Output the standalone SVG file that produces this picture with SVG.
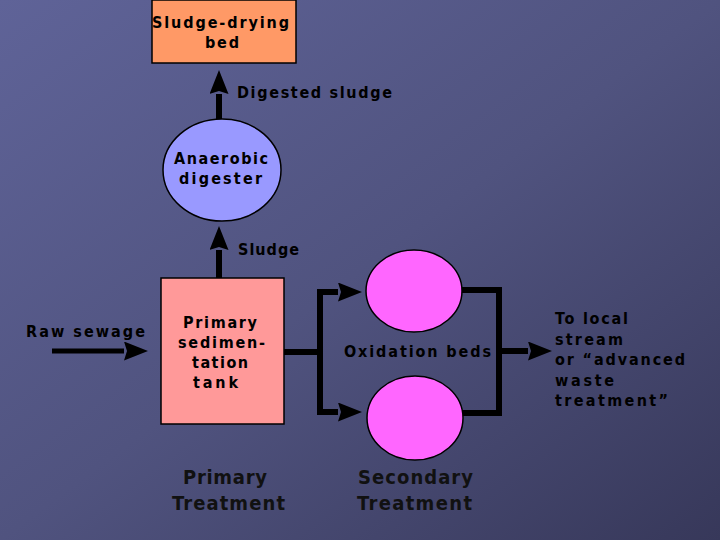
<svg xmlns="http://www.w3.org/2000/svg" width="720" height="540" viewBox="0 0 720 540">
  <defs>
    <linearGradient id="bg" x1="0" y1="0" x2="1" y2="1">
      <stop offset="0" stop-color="#5f6398"/>
      <stop offset="0.5" stop-color="#50537f"/>
      <stop offset="1" stop-color="#37385a"/>
    </linearGradient>
    <marker id="head" viewBox="0 0 24 19" refX="0" refY="9.5" markerWidth="24" markerHeight="19" markerUnits="userSpaceOnUse" orient="auto">
      <path d="M0,0 L24,9.5 L0,19 L3,9.5 z" fill="#000"/>
    </marker>
    <style>
      .lbl { font-family: "DejaVu Sans Condensed", "DejaVu Sans", sans-serif; font-weight: bold; font-size: 16px; fill: #000; }
      .cap { font-family: "DejaVu Sans Condensed", "DejaVu Sans", sans-serif; font-weight: bold; font-size: 20px; fill: #111; }
      .node { stroke: #000; stroke-width: 1.5; }
      .wire { fill: none; stroke: #000; stroke-width: 6; }
      .arrow { fill: none; stroke: #000; stroke-width: 6; marker-end: url(#head); }
    </style>
  </defs>

  <rect x="0" y="0" width="720" height="540" fill="url(#bg)"/>

  <g id="connectors">
    <line class="arrow" x1="219" y1="119" x2="219" y2="94"/>
    <line class="arrow" x1="219" y1="278" x2="219" y2="250"/>
    <line class="arrow" x1="52" y1="351" x2="124" y2="351" style="stroke-width:5"/>
    <line class="wire" x1="284" y1="352" x2="320" y2="352"/>
    <path class="wire" d="M338,292 H320 V412 H338"/>
    <line class="arrow" x1="330" y1="292" x2="338" y2="292"/>
    <line class="arrow" x1="330" y1="412" x2="338" y2="412"/>
    <path class="wire" d="M461,290 H499 V413 H462"/>
    <line class="arrow" x1="499" y1="351" x2="528" y2="351"/>
  </g>

  <g id="sludge-drying-bed">
    <rect class="node" x="152" y="0" width="144" height="63" fill="#ff9966"/>
    <text class="lbl" x="152" y="28" textLength="137" lengthAdjust="spacing">Sludge-drying</text>
    <text class="lbl" x="205" y="48" textLength="34" lengthAdjust="spacing">bed</text>
  </g>

  <g id="anaerobic-digester">
    <ellipse class="node" cx="222" cy="170" rx="59" ry="51" fill="#9999ff"/>
    <text class="lbl" x="174" y="164" textLength="94" lengthAdjust="spacing">Anaerobic</text>
    <text class="lbl" x="179" y="184" textLength="83" lengthAdjust="spacing">digester</text>
  </g>

  <g id="primary-tank">
    <rect class="node" x="161" y="278" width="123" height="146" fill="#ff9999"/>
    <text class="lbl" x="183" y="328" textLength="74" lengthAdjust="spacing">Primary</text>
    <text class="lbl" x="178" y="348" textLength="87" lengthAdjust="spacing">sedimen-</text>
    <text class="lbl" x="192" y="368" textLength="56" lengthAdjust="spacing">tation</text>
    <text class="lbl" x="193" y="388" textLength="45" lengthAdjust="spacing">tank</text>
  </g>

  <g id="oxidation-bed-1">
    <ellipse class="node" cx="414" cy="291" rx="48" ry="41" fill="#ff66ff"/>
  </g>
  <g id="oxidation-bed-2">
    <ellipse class="node" cx="415" cy="418" rx="48" ry="42" fill="#ff66ff"/>
  </g>

  <g id="labels">
    <text class="lbl" x="237" y="98" textLength="155" lengthAdjust="spacing">Digested sludge</text>
    <text class="lbl" x="238" y="255" textLength="61" lengthAdjust="spacing">Sludge</text>
    <text class="lbl" x="26" y="337" textLength="119" lengthAdjust="spacing">Raw sewage</text>
    <text class="lbl" x="344" y="357" textLength="147" lengthAdjust="spacing">Oxidation beds</text>
    <text class="lbl" x="555" y="324" textLength="73" lengthAdjust="spacing">To local</text>
    <text class="lbl" x="555" y="345" textLength="68" lengthAdjust="spacing">stream</text>
    <text class="lbl" x="555" y="365" textLength="130" lengthAdjust="spacing">or “advanced</text>
    <text class="lbl" x="555" y="386" textLength="59" lengthAdjust="spacing">waste</text>
    <text class="lbl" x="555" y="406" textLength="113" lengthAdjust="spacing">treatment”</text>
    <text class="cap" x="183" y="484" textLength="84" lengthAdjust="spacing">Primary</text>
    <text class="cap" x="172" y="510" textLength="113" lengthAdjust="spacing">Treatment</text>
    <text class="cap" x="358" y="484" textLength="115" lengthAdjust="spacing">Secondary</text>
    <text class="cap" x="357" y="510" textLength="115" lengthAdjust="spacing">Treatment</text>
  </g>
</svg>
